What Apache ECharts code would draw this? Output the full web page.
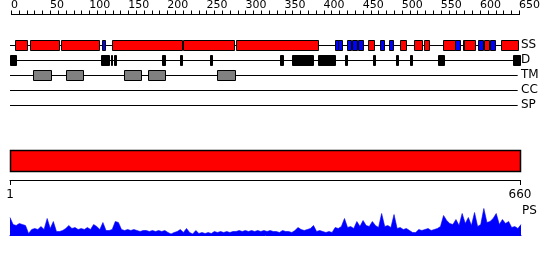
<!DOCTYPE html>
<html><head><meta charset="utf-8">
<script src="https://cdn.jsdelivr.net/npm/echarts@6/dist/echarts.min.js"></script>
<style>html,body{margin:0;padding:0;background:#fff}#c{width:550px;height:260px}</style>
</head><body><div id="c"></div>
<script>
const seqLength = 660;
const rowNames = ['SS', 'D', 'TM', 'CC', 'SP'];
const topTickLabels = [0, 50, 100, 150, 200, 250, 300, 350, 400, 450, 500, 550, 600, 650];
const topTickStep = 10;
const helices = [[7,22],[26,63],[66,115],[132,222],[224,290],[292,398],[463,471],[505,513],[523,534],[536,542],[560,576],[586,588],[588,602],[614,620],[636,658]];
const strands = [[119,123],[421,425],[425,430],[436,441],[442,448],[450,456],[479,484],[490,495],[576,583],[606,612],[621,628]];
const disorder = [[0,8],[118,128],[131,132],[134,136],[197,201],[220,222],[259,261],[350,354],[365,392],[398,420],[434,436],[470,473],[499,502],[518,521],[554,562],[651,660]];
const transmembrane = [[30,53],[72,94],[147,169],[179,201],[268,291]];
const bottomLabels = [1, 660];
const psStep = 4;
const psValues = [18,11,10,12,11,10,2,6,7,6,9,6,17,7,14,4,4,5,7,10,7,8,6,7,6,8,6,11,9,6,13,5,5,6,14,13,6,5,6,5,6,5,4,5,5,4,5,4,5,4,5,3,1.5,3,4,6,3,7,3,1.5,5,2,3,2,3,2,4,3,4,3,4,3,4,4,5,4,5,4,5,4,5,4,5,4,5,4,4,3,5,4,4,3,5,8,6,5,6,7,10,4,5,4,3,4,3,8,7,9,17,8,9,7,14,9,15,10,9,14,10,8,22,9,10,8,21,7,8,6,7,5,3,3,6,5,6,7,5,6,7,9,20,15,12,11,16,10,22,12,18,10,23,9,11,27,13,14,17,22,11,16,12,14,8,9,7,11];

const font = 'DejaVu Sans';
const chart = echarts.init(document.getElementById('c'), null, {renderer: 'canvas'});

const colors = {helix: '#ff0000', strand: '#0000ff', d: '#000000', tm: '#808080'};
const featData = [].concat(
  helices.map(p => [p[0], p[1], 0, 'helix']),
  strands.map(p => [p[0], p[1], 0, 'strand']),
  disorder.map(p => [p[0], p[1], 1, 'd']),
  transmembrane.map(p => [p[0], p[1], 2, 'tm'])
);
const lineData = rowNames.map((n, i) => [0, seqLength - 3, i]);
const psData = psValues.map((v, i) => [1 + i * psStep, v]);
const topMax = topTickLabels[topTickLabels.length - 1];
const topTicks = [];
for (let v = 0; v <= topMax; v += topTickStep) topTicks.push([v]);
const gridBase = {outerBoundsMode: 'none', containLabel: false};

chart.setOption({
  animation: false,
  textStyle: {fontFamily: font},
  grid: [
    Object.assign({left: 11, width: 508, top: 15, height: 10}, gridBase),
    Object.assign({left: 10, width: 510, top: 37.5, height: 75}, gridBase),
    Object.assign({left: 10, width: 510, top: 150, height: 30}, gridBase),
    Object.assign({left: 10, width: 511, top: 208, height: 27.5}, gridBase)
  ],
  xAxis: [
    {gridIndex: 0, type: 'value', min: 0, max: topMax, interval: topTickStep, position: 'top',
      axisLine: {show: false}, axisTick: {show: false},
      axisLabel: {show: true, margin: 4, align: 'left', color: '#000', fontSize: 11, fontFamily: font,
        showMinLabel: true, showMaxLabel: true,
        formatter: v => topTickLabels.indexOf(v) >= 0 ? String(v) : ''},
      splitLine: {show: false}},
    {gridIndex: 1, type: 'value', min: 0, max: seqLength, show: false},
    {gridIndex: 2, type: 'value', min: 1, max: seqLength, position: 'bottom',
      axisLine: {show: true, onZero: false, lineStyle: {color: '#000', width: 1}},
      axisTick: {show: true, length: 5, lineStyle: {color: '#000'}, customValues: bottomLabels},
      axisLabel: {margin: 9, color: '#000', fontSize: 12, fontFamily: font, customValues: bottomLabels},
      splitLine: {show: false}},
    {gridIndex: 3, type: 'value', min: 1, max: seqLength + 1, show: true,
      axisLine: {show: true, onZero: false, lineStyle: {color: '#0000ff', width: 1}}, axisTick: {show: false}, axisLabel: {show: false}, splitLine: {show: false}}
  ],
  yAxis: [
    {gridIndex: 0, type: 'value', show: false, min: 0, max: 1},
    {gridIndex: 1, type: 'category', data: rowNames, inverse: true, position: 'right',
      axisLine: {show: false}, axisTick: {show: false},
      axisLabel: {interval: 0, margin: 1, color: '#000', fontSize: 12, fontFamily: font, align: 'left'}},
    {gridIndex: 2, type: 'value', show: false, min: 0, max: 30, inverse: true},
    {gridIndex: 3, type: 'value', show: false, min: 0, max: 27.5}
  ],
  graphic: [
    {type: 'text', left: 522, top: 205, style: {text: 'PS', font: '12px "DejaVu Sans"', fill: '#000'}}
  ],
  series: [
    {type: 'custom', xAxisIndex: 0, yAxisIndex: 0, data: topTicks, silent: true, clip: false,
      renderItem: (params, api) => {
        const p = api.coord([api.value(0), 1]);
        const x = Math.round(p[0]) + 0.5;
        const y = Math.round(p[1]) - 0.5;
        const children = [{type: 'line', shape: {x1: x, y1: y, x2: x, y2: y - 4}, style: {stroke: '#000', lineWidth: 1}}];
        if (params.dataIndex === 0) {
          const e = api.coord([topMax, 1]);
          children.push({type: 'line', shape: {x1: p[0], y1: y, x2: e[0] + 1, y2: y}, style: {stroke: '#000', lineWidth: 1}});
        }
        return {type: 'group', children: children};
      }},
    {type: 'custom', xAxisIndex: 1, yAxisIndex: 1, data: lineData, silent: true,
      renderItem: (params, api) => {
        const s = api.coord([api.value(0), api.value(2)]);
        const e = api.coord([api.value(1), api.value(2)]);
        const y = Math.round(s[1]) + 0.5;
        return {type: 'line', shape: {x1: s[0], y1: y, x2: e[0], y2: y}, style: {stroke: '#000', lineWidth: 1}};
      }},
    {type: 'custom', xAxisIndex: 1, yAxisIndex: 1, data: featData, silent: true,
      renderItem: (params, api) => {
        const d = featData[params.dataIndex];
        const s = api.coord([d[0], d[2]]);
        const e = api.coord([d[1], d[2]]);
        const yc = Math.round(s[1]);
        return {type: 'rect', shape: {x: Math.round(s[0]) + 0.5, y: yc - 4.5, width: Math.max(1, Math.round(e[0] - s[0])), height: 10},
          style: {fill: colors[d[3]], stroke: '#000', lineWidth: 1}};
      }},
    {type: 'custom', xAxisIndex: 2, yAxisIndex: 2, data: [[1, seqLength]], silent: true,
      renderItem: (params, api) => {
        const s = api.coord([api.value(0), 0]);
        const e = api.coord([api.value(1), 21]);
        return {type: 'rect', shape: {x: s[0] + 0.5, y: s[1] + 0.5, width: e[0] - s[0], height: e[1] - s[1]},
          style: {fill: '#ff0000', stroke: '#000', lineWidth: 1.5}};
      }},
    {type: 'line', xAxisIndex: 3, yAxisIndex: 3, data: psData, symbol: 'none', silent: true,
      lineStyle: {color: '#0000ff', width: 0.6}, areaStyle: {color: '#0000ff', opacity: 1}}
  ]
});
</script></body></html>
